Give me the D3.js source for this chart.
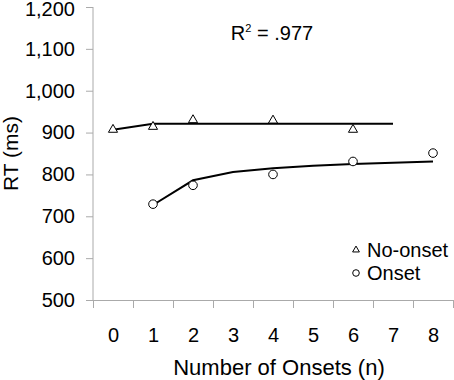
<!DOCTYPE html>
<html>
<head>
<meta charset="utf-8">
<script src="https://cdn.jsdelivr.net/npm/d3@7"></script>
<style>
  html, body { margin: 0; padding: 0; background: #fff; }
  svg { display: block; }
  text { font-family: "Liberation Sans", Arial, sans-serif; fill: #000; }
</style>
</head>
<body>
<svg id="chart" width="454" height="380"></svg>
<script>
// ---- data ----
const categories = [0, 1, 2, 3, 4, 5, 6, 7, 8];
const yTicks = [500, 600, 700, 800, 900, 1000, 1100, 1200];

const noOnsetN = [0, 1, 2, 4, 6];
const noOnsetRT = [907, 914, 930, 929, 907];

const onsetN = [1, 2, 4, 6, 8];
const onsetRT = [729, 774, 800, 831, 851];

const noOnsetFitN = [0, 1, 2, 3, 4, 5, 6, 7];
const noOnsetFitRT = [907, 921, 921, 921, 921, 921, 921, 921];

const onsetFitN = [1, 2, 3, 4, 5, 6, 7, 8];
const onsetFitRT = [727, 786, 806, 815, 821, 825, 828, 831];

const seriesNames = ["No-onset", "Onset"];
const rSquaredLabel = ".977";
const xTitle = "Number of Onsets (n)";
const yTitle = "RT (ms)";

(function () {
// ---- layout ----
const svg = d3.select("#chart");
const mLeft = 93, mRight = 453, mTop = 7, mBottom = 300;
const axisColor = "#aaaaaa";
const ff = "Liberation Sans, Arial, sans-serif";

const x = d3.scaleLinear().domain([-0.5, 8.5]).range([mLeft, mRight]);
const y = d3.scaleLinear().domain([500, 1200]).range([mBottom, mTop]);

// Y axis
const yAxis = svg.append("g")
  .attr("transform", `translate(${mLeft},0)`)
  .call(d3.axisLeft(y).tickValues(yTicks).tickFormat(d3.format(",")).tickSize(7).tickPadding(11));
yAxis.selectAll("path, line").attr("stroke", axisColor).attr("stroke-width", 1);
yAxis.select(".domain").attr("d", `M0,${mTop}V${mBottom}`);
yAxis.selectAll("text").style("font-size", "20px").style("font-family", ff).attr("fill", "#000");
// keep the top label fully inside the picture
yAxis.selectAll(".tick").filter(d => d === 1200).select("text").attr("dy", "0.42em");

// X axis tick marks (between categories)
const tickPos = categories.map(c => c - 0.5).concat([8.5]);
const xAxisTicks = svg.append("g")
  .attr("transform", `translate(0,${mBottom})`)
  .call(d3.axisBottom(x).tickValues(tickPos).tickFormat("").tickSize(8).tickSizeOuter(0));
xAxisTicks.selectAll("path, line").attr("stroke", axisColor).attr("stroke-width", 1);

// X axis labels
const xAxisLabels = svg.append("g")
  .attr("transform", `translate(0,${mBottom})`)
  .call(d3.axisBottom(x).tickValues(categories).tickFormat(d3.format("d")).tickSize(0).tickPadding(28));
xAxisLabels.select(".domain").remove();
xAxisLabels.selectAll("text").style("font-size", "20px").style("font-family", ff).attr("fill", "#000");

// Axis titles
svg.append("text")
  .attr("x", 279)
  .attr("y", 375)
  .attr("text-anchor", "middle")
  .style("font-size", "22px")
  .text(xTitle);

svg.append("text")
  .attr("transform", `translate(17.5,${(mTop + mBottom) / 2}) rotate(-90)`)
  .attr("text-anchor", "middle")
  .style("font-size", "21px")
  .text(yTitle);

// R^2 label
const rt = svg.append("text")
  .attr("x", 272)
  .attr("y", 40)
  .attr("text-anchor", "middle")
  .style("font-size", "20px");
rt.append("tspan").text("R");
rt.append("tspan").attr("dy", -8).style("font-size", "11px").text("2");
rt.append("tspan").attr("dy", 8).text(" = " + rSquaredLabel);

// Fit lines
const line = d3.line().x(d => x(d[0])).y(d => y(d[1]));
svg.append("path")
  .datum(d3.zip(noOnsetFitN, noOnsetFitRT))
  .attr("d", line)
  .attr("fill", "none").attr("stroke", "#000").attr("stroke-width", 2);
svg.append("path")
  .datum(d3.zip(onsetFitN, onsetFitRT))
  .attr("d", line)
  .attr("fill", "none").attr("stroke", "#000").attr("stroke-width", 2);

// Markers
const tri = d3.symbol().type(d3.symbolTriangle).size(36);
svg.append("g").selectAll("path")
  .data(d3.zip(noOnsetN, noOnsetRT))
  .join("path")
  .attr("d", tri)
  .attr("transform", d => `translate(${x(d[0])},${y(d[1])})`)
  .attr("fill", "#fff").attr("stroke", "#000").attr("stroke-width", 1);

svg.append("g").selectAll("circle")
  .data(d3.zip(onsetN, onsetRT))
  .join("circle")
  .attr("cx", d => x(d[0]))
  .attr("cy", d => y(d[1]))
  .attr("r", 4.3)
  .attr("fill", "#fff").attr("stroke", "#000").attr("stroke-width", 1);

// Legend
const lg = svg.append("g");
lg.append("path")
  .attr("d", d3.symbol().type(d3.symbolTriangle).size(20))
  .attr("transform", "translate(356,250)")
  .attr("fill", "#fff").attr("stroke", "#000").attr("stroke-width", 1);
lg.append("text").attr("x", 367).attr("y", 256.5).style("font-size", "20px").text(seriesNames[0]);
lg.append("circle")
  .attr("cx", 356).attr("cy", 273).attr("r", 3.3)
  .attr("fill", "#fff").attr("stroke", "#000").attr("stroke-width", 1);
lg.append("text").attr("x", 367).attr("y", 280).style("font-size", "20px").text(seriesNames[1]);
})();
</script>
</body>
</html>
